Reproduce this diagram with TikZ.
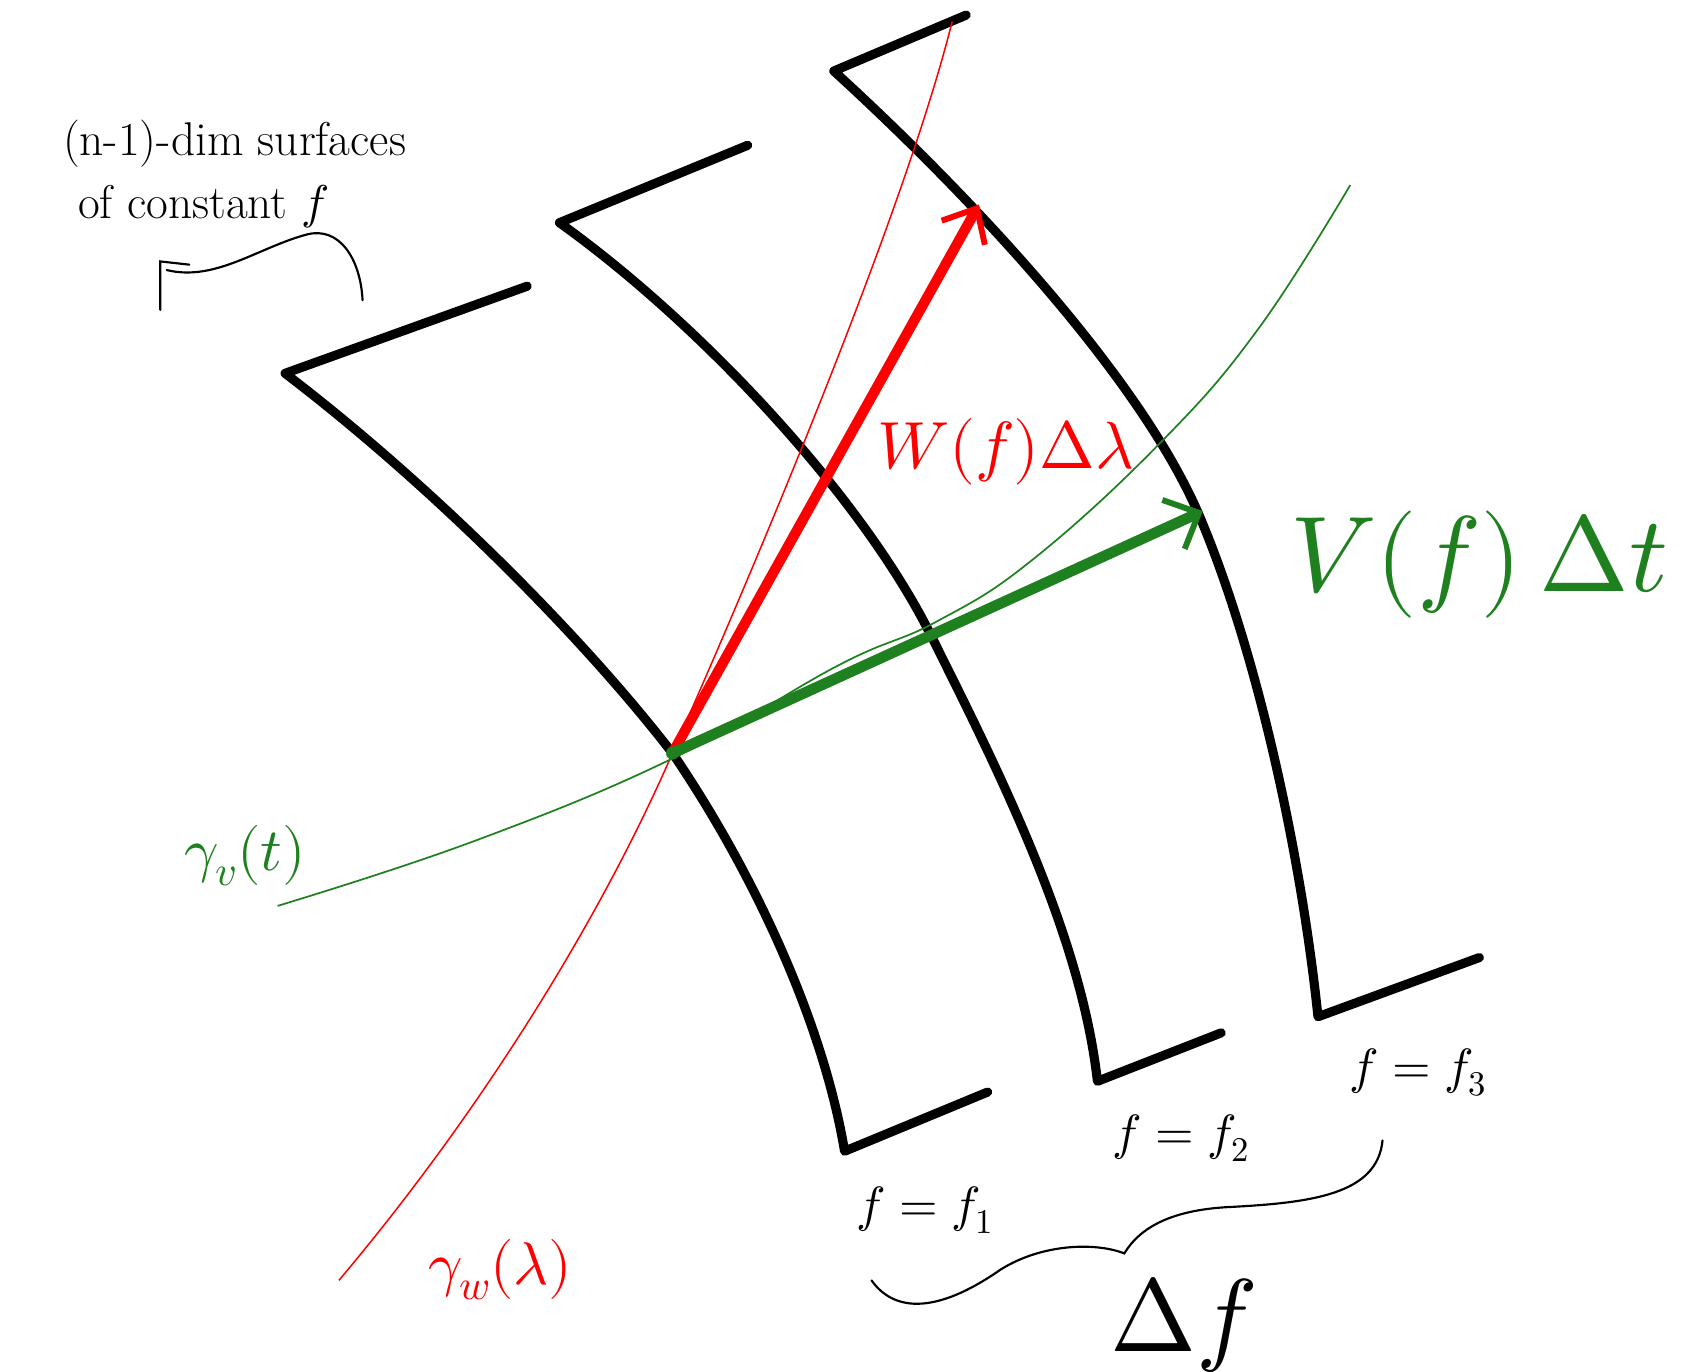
\documentclass[tikz,border=0pt]{standalone}
\usepackage{unicode-math}
\usetikzlibrary{arrows.meta}
\definecolor{mygreen}{RGB}{30,128,30}
\definecolor{myred}{RGB}{255,0,0}
\tikzset{
  surf/.style={line width=8.5pt, line cap=round, line join=round, black},
  thinred/.style={line width=1.4pt, myred},
  thingreen/.style={line width=1.6pt, mygreen},
  vecred/.style={line width=9.5pt, myred, -{Straight Barb[length=26pt,width=46pt,line width=5.5pt]}},
  vecgreen/.style={line width=10pt, mygreen, -{Straight Barb[length=26pt,width=50pt,line width=5.5pt]}},
  note/.style={line width=2pt, black, line cap=round},
  lab/.style={inner sep=0pt}
}
\begin{document}
\begin{tikzpicture}[x=1pt,y=-1pt]
\useasboundingbox[fill=white] (0,0) rectangle (1568,1275);
% origin point
\coordinate (O) at (625,700);
% surfaces
\draw[surf] (490,266) -- (265,347) .. controls (400,450) and (540,590) .. (625,700) .. controls (700,810) and (765,950) .. (785,1070) -- (918,1015);
\draw[surf] (695,135) -- (520,207) .. controls (650,300) and (800,460) .. (865,590) .. controls (930,720) and (1005,870) .. (1020,1005) -- (1135,960);
\draw[surf] (898,14) -- (775,66) .. controls (900,180) and (1060,350) .. (1115,480) .. controls (1170,610) and (1210,800) .. (1225,945) -- (1375,890);
% thin curves
\draw[thinred] (315,1190) .. controls (450,1030) and (560,850) .. (625,700) .. controls (700,530) and (840,200) .. (885,20);
\draw[thingreen] plot[smooth, tension=0.7] coordinates {(258,842) (440,782) (625,705) (780,618) (870,578) (960,520) (1080,410) (1170,305) (1255,172)};
% vectors
\coordinate (Wtip) at (910,190);
\coordinate (Vtip) at (1118,475);
\draw[vecred] (O) -- (Wtip);
\draw[vecgreen] (O) -- (Vtip);
\fill[mygreen] (O) circle (6pt);
% labels
\node[lab, myred] (wl) at (935,420) {\fontsize{62}{70}\selectfont $W(f)\Delta\lambda$};
\node[lab, mygreen] (vl) at (1375,525) {\fontsize{100}{110}\selectfont $V(f)\,\Delta t$};
\node[lab, mygreen] (gv) at (228,795) {\fontsize{56}{64}\selectfont $\gamma_v(t)$};
\node[lab, myred] (gw) at (465,1180) {\fontsize{56}{64}\selectfont $\gamma_w(\lambda)$};
\node[lab] (f1) at (860,1125) {\fontsize{46}{52}\selectfont $f=f_1$};
\node[lab] (f2) at (1098,1058) {\fontsize{46}{52}\selectfont $f=f_2$};
\node[lab] (f3) at (1318,997) {\fontsize{46}{52}\selectfont $f=f_3$};
\node[lab] (df) at (1100,1232) {\fontsize{96}{104}\selectfont $\Delta f$};
\node[lab, align=left, font={\fontsize{44}{58}\selectfont}] (ann) at (218,162) {(n-1)-dim surfaces\\ \hspace{14pt}of constant $f$};
% brace
\coordinate (b1) at (810,1190);
\coordinate (b2) at (1285,1060);
\draw[note] (b1) .. controls (835,1225) and (880,1215) .. (930,1180) .. controls (970,1155) and (1020,1155) .. (1045,1165) .. controls (1060,1140) and (1090,1125) .. (1140,1122) .. controls (1220,1118) and (1280,1110) .. (b2);
% annotation pointer
\coordinate (a1) at (337,279);
\coordinate (a2) at (155,251);
\draw[note] (a1) .. controls (335,240) and (315,210) .. (285,218) .. controls (240,230) and (200,262) .. (a2);
\draw[note] (149,288) -- (149,243) -- (176,246);
\end{tikzpicture}
\end{document}
